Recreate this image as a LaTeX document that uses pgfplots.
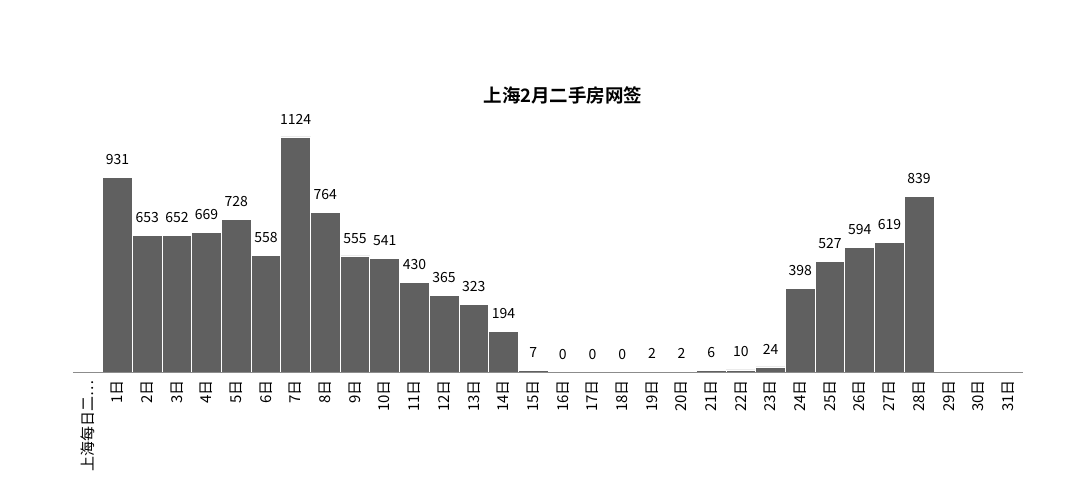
\documentclass[border=0pt]{standalone}
\usepackage{pgfplots}
\pgfplotsset{compat=1.18}
\usepackage{fontspec}
\setmainfont{Noto Sans CJK SC}[BoldFont={Noto Sans CJK SC Bold}]
\definecolor{barc}{HTML}{606060}
\definecolor{axc}{HTML}{8C8C8C}
\begin{document}
\begin{tikzpicture}
\path[use as bounding box] (-73pt,-119pt) rectangle (1007pt,372pt);
\begin{axis}[
  at={(0,0)}, anchor=south west,
  scale only axis, width=950pt, height=271.8pt,
  xmin=-0.5, xmax=31.5, ymin=0, ymax=1300,
  axis x line*=bottom, axis y line=none,
  axis on top,
  x axis line style={axc, line width=1pt, -},
  xtick={0,...,31},
  xticklabels={上海每日二…,1日,2日,3日,4日,5日,6日,7日,8日,9日,10日,11日,12日,13日,14日,15日,16日,17日,18日,19日,20日,21日,22日,23日,24日,25日,26日,27日,28日,29日,30日,31日},
  x tick label style={rotate=90, anchor=east, font=\fontsize{15}{17}\selectfont, inner sep=0pt},
  xticklabel shift=8pt,
  major tick length=0pt,
  ybar, bar width=29.6875pt,
  nodes near coords,
  /pgf/number format/assume math mode=true,
  /pgf/number format/1000 sep={},
  nodes near coords style={font=\fontsize{14}{16}\selectfont, anchor=south, yshift=9pt, black},
  clip=false,
]
\addplot[fill=barc, draw=white, line width=0.8pt] coordinates {
(1,931) (2,653) (3,652) (4,669) (5,728) (6,558) (7,1124) (8,764) (9,555) (10,541)
(11,430) (12,365) (13,323) (14,194) (15,7) (16,0) (17,0) (18,0) (19,2) (20,2)
(21,6) (22,10) (23,24) (24,398) (25,527) (26,594) (27,619) (28,839)
};
\end{axis}
\node[font=\bfseries\fontsize{18.5}{20}\selectfont] at (490pt,277pt) {上海2月二手房网签};
\end{tikzpicture}
\end{document}
